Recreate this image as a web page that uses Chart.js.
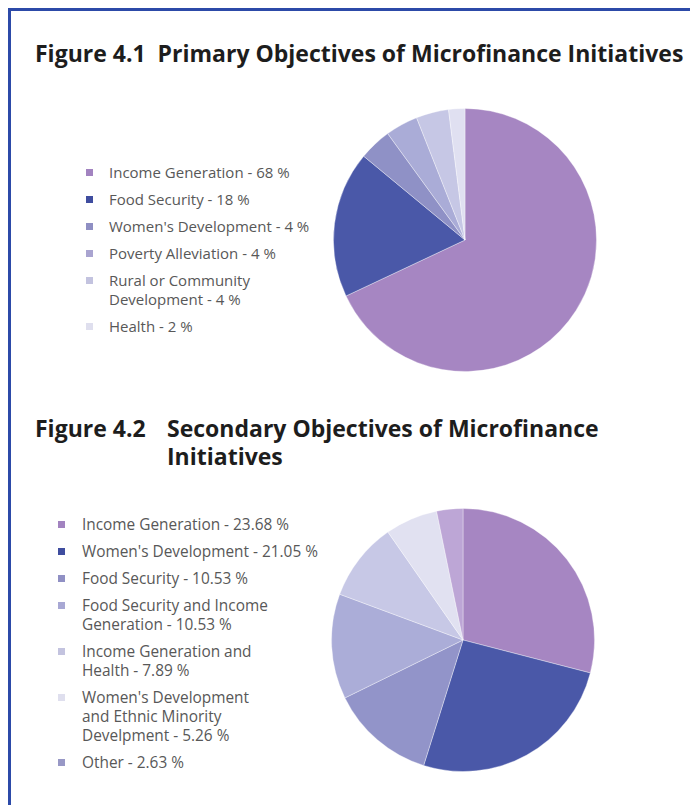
<!DOCTYPE html>
<html>
<head>
<meta charset="utf-8">
<script src="https://cdn.jsdelivr.net/npm/chart.js@4"></script>
<style>
  body { margin: 0; background: #fff; font-family: "Open Sans", sans-serif; }
  #page { position: relative; width: 690px; height: 805px; overflow: hidden; background: #fff; }
  #frame { position: absolute; left: 8px; top: 8px; width: 720px; height: 840px;
           border-left: 3px solid #2c4aa8; border-top: 3px solid #2c4aa8; }
  .title { position: absolute; font-weight: 700; font-size: 23px; color: #1d1d1d; line-height: 28px; white-space: nowrap; }
  .legend { position: absolute; margin: 0; padding: 0; list-style: none; color: #585858; font-size: 15px; line-height: 19px; }
  .legend li { position: relative; margin-bottom: 8px; white-space: nowrap; }
  .legend .sw { position: absolute; width: 7px; height: 7px; top: 6px; }
  #legend2 { font-size: 15.4px; }
  canvas { position: absolute; }
</style>
</head>
<body>
<div id="page">
  <div id="frame"></div>

  <div class="title" style="left:35px; top:39px;">Figure 4.1&nbsp; Primary Objectives of Microfinance Initiatives</div>
  <ul class="legend" id="legend1" style="left:86px; top:163px;"></ul>
  <canvas id="pie1" width="264" height="264" style="left:333px; top:108px;"></canvas>

  <div class="title" style="left:35px; top:414px;">Figure 4.2</div>
  <div class="title" style="left:167px; top:414px;">Secondary Objectives of Microfinance<br>Initiatives</div>
  <ul class="legend" id="legend2" style="left:58px; top:515px;"></ul>
  <canvas id="pie2" width="264" height="264" style="left:331px; top:508px;"></canvas>
</div>

<script>
// Figure 4.1 - primary objectives (%)
const labels1 = ['Income Generation', 'Food Security', "Women's Development", 'Poverty Alleviation',
                 ['Rural or Community', 'Development'], 'Health']
const values1 = [68, 18, 4, 4, 4, 2]
const colors1 = ['#a686c2', '#4a58a8', '#8f91c6', '#aaacd7', '#c6c7e5', '#e0e0f1']
const swatch1 = ['#a283c0', '#3f4d9f', '#8f8fc3', '#a9a4d0', '#c3c3df', '#dfdfee']

// Figure 4.2 - secondary objectives (%)
const labels2 = ['Income Generation', "Women's Development", 'Food Security',
                 ['Food Security and Income', 'Generation'], ['Income Generation and', 'Health'],
                 ["Women's Development", 'and Ethnic Minority', 'Develpment'], 'Other']
const values2 = [23.68, 21.05, 10.53, 10.53, 7.89, 5.26, 2.63]
const colors2 = ['#a686c2', '#4a58a8', '#9294c9', '#abadd8', '#c7c8e6', '#e1e1f1', '#bda6d6']
const swatch2 = ['#a283c0', '#3f4d9f', '#9090c4', '#a8a8d4', '#c3c3df', '#dfdfee', '#9898c6']

function buildLegend(id, labels, values, swatches) {
    const ul = document.getElementById(id)
    labels.forEach((lab, i) => {
        const lines = Array.isArray(lab) ? lab.slice() : [lab]
        lines[lines.length - 1] += ' - ' + values[i] + ' %'
        const li = document.createElement('li')
        li.style.paddingLeft = (id === 'legend1' ? 23 : 24) + 'px'
        li.innerHTML = `<span class="sw" style="left:0;background:${swatches[i]}"></span>` + lines.join('<br>')
        ul.appendChild(li)
    })
}

function buildPie(id, labels, values, colors) {
    new Chart(document.getElementById(id), {
        type: 'pie',
        data: {
            labels: labels,
            datasets: [{
                data: values,
                backgroundColor: colors,
                borderColor: 'rgba(255,255,255,0.35)',
                borderWidth: 1
            }]
        },
        options: {
            responsive: false,
            animation: false,
            layout: { padding: 0 },
            plugins: { legend: { display: false }, tooltip: { enabled: false } }
        }
    })
}

buildLegend('legend1', labels1, values1, swatch1)
buildLegend('legend2', labels2, values2, swatch2)
buildPie('pie1', labels1, values1, colors1)
buildPie('pie2', labels2, values2, colors2)
</script>
</body>
</html>
